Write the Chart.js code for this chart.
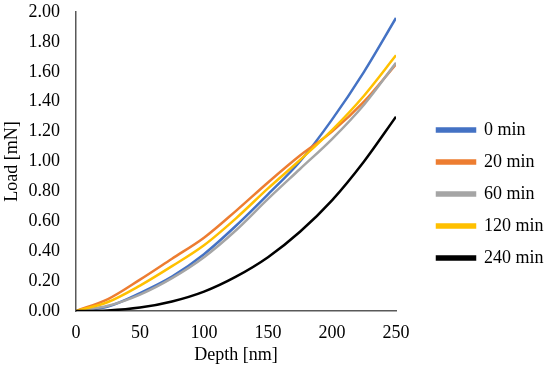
<!DOCTYPE html>
<html>
<head>
<meta charset="utf-8">
<script src="https://cdn.jsdelivr.net/npm/chart.js@4"></script>
<style>
  html, body { margin: 0; padding: 0; background: #fff; }
  #wrap { width: 550px; height: 375px; }
</style>
</head>
<body>
<div id="wrap"><canvas id="myChart" width="550" height="375"></canvas></div>
<script>
'use strict';

// Depth values [nm]
let depth = [0, 25, 50, 75, 100, 125, 150, 175, 200, 225, 250];

// Load [mN] for each series
let load0 = [0, 0.03, 0.12, 0.23, 0.38, 0.57, 0.78, 1.00, 1.28, 1.60, 1.96];
let load20 = [0, 0.08, 0.21, 0.35, 0.49, 0.67, 0.86, 1.04, 1.20, 1.40, 1.65];
let load60 = [0, 0.035, 0.11, 0.22, 0.36, 0.54, 0.75, 0.95, 1.15, 1.38, 1.66];
let load120 = [0, 0.06, 0.17, 0.30, 0.44, 0.62, 0.82, 1.01, 1.21, 1.44, 1.71];
let load240 = [0, 0.004, 0.023, 0.064, 0.13, 0.23, 0.36, 0.53, 0.74, 1.00, 1.30];

let seriesNames = ['0 min', '20 min', '60 min', '120 min', '240 min'];
let seriesValues = [load0, load20, load60, load120, load240];
let seriesColors = ['#4472C4', '#ED7D31', '#A5A5A5', '#FFC000', '#000000'];

const ctx = document.getElementById('myChart');
const fontFamily = '"Liberation Serif", "Times New Roman", serif';

function toPoints(values) {
  let pts = [];
  for (let i = 0; i < depth.length; i++) {
    pts.push({ x: depth[i], y: values[i] });
  }
  return pts;
}

let datasets = [];
for (let i = 0; i < seriesNames.length; i++) {
  datasets.push({
    label: seriesNames[i],
    data: toPoints(seriesValues[i]),
    borderColor: seriesColors[i],
    backgroundColor: seriesColors[i],
    borderWidth: 2.5,
    pointRadius: 0,
    showLine: true,
    cubicInterpolationMode: 'monotone',
    // later series drawn on top, like the original
    order: seriesNames.length - i
  });
}

// legend sits a bit away from the plot in the original
const legendGap = {
  id: 'legendGap',
  afterLayout: function (chart) {
    chart.legend.left += 27;
    chart.legend.right += 27;
    chart.legend.top += 2;
    chart.legend.bottom += 2;
  }
};

new Chart(ctx, {
  type: 'scatter',
  data: { datasets: datasets },
  plugins: [legendGap],
  options: {
    responsive: false,
    animation: false,
    layout: { padding: { top: 9, left: 1, right: 0, bottom: 0 } },
    plugins: {
      tooltip: { enabled: false },
      legend: {
        position: 'right',
        labels: {
          boxWidth: 38,
          boxHeight: 3,
          padding: 14,
          color: '#000',
          font: { family: fontFamily, size: 18 },
          sort: function (a, b) { return a.datasetIndex - b.datasetIndex; }
        }
      }
    },
    scales: {
      x: {
        type: 'linear',
        min: 0,
        max: 250,
        afterFit: function (scale) {
          scale.height = 64;
          scale.paddingLeft = 0;
          scale.paddingRight = 154;
        },
        ticks: {
          stepSize: 50,
          color: '#000',
          padding: 11,
          font: { family: fontFamily, size: 18 }
        },
        grid: { display: false, drawTicks: false },
        border: { display: true, color: '#595959', width: 1.5 },
        title: {
          display: true,
          text: 'Depth [nm]',
          color: '#000',
          padding: { top: 0, bottom: 9 },
          font: { family: fontFamily, size: 18 }
        }
      },
      y: {
        min: 0,
        max: 2,
        afterFit: function (scale) {
          scale.width = 75;
          scale.paddingTop = 12;
          scale.paddingBottom = 0;
        },
        ticks: {
          stepSize: 0.2,
          color: '#000',
          padding: 16,
          font: { family: fontFamily, size: 18 },
          callback: function (value) { return value.toFixed(2); }
        },
        grid: { display: false, drawTicks: false },
        border: { display: true, color: '#595959', width: 1.5 },
        title: {
          display: true,
          text: 'Load [mN]',
          color: '#000',
          padding: { top: 0, bottom: 0 },
          font: { family: fontFamily, size: 18 }
        }
      }
    }
  }
});
</script>
</body>
</html>
